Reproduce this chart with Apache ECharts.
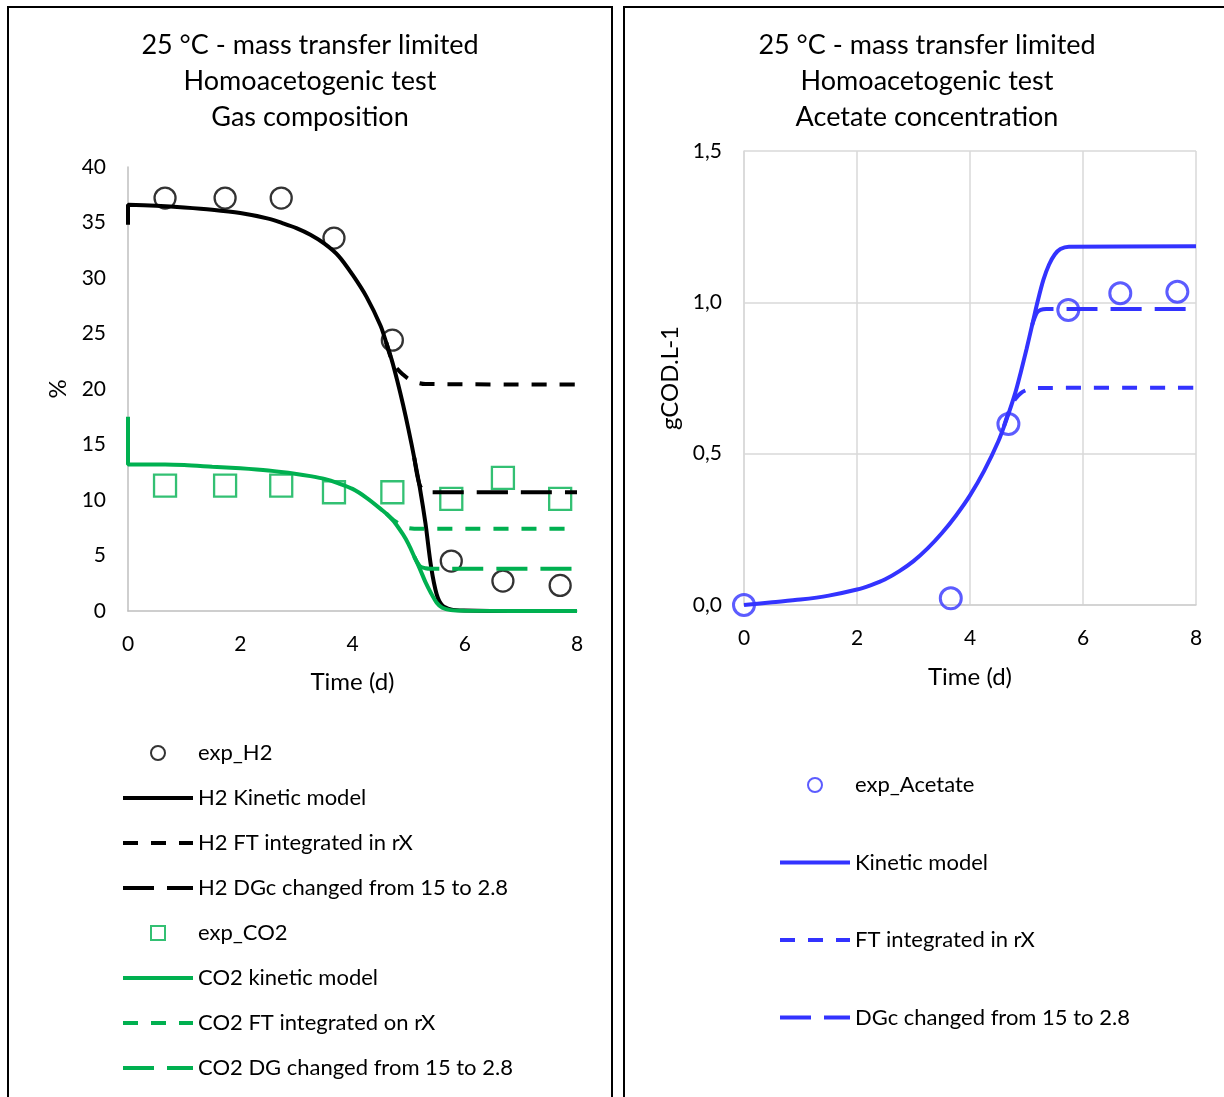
<!DOCTYPE html>
<html><head><meta charset="utf-8">
<script src="https://cdn.jsdelivr.net/npm/echarts/dist/echarts.min.js"></script>
<style>html,body{margin:0;padding:0;background:#fff}#c{width:1224px;height:1097px}</style>
</head><body><div id="c"></div>
<script>
// ---------- Left panel: gas composition ----------
const titleLeft = '25 °C - mass transfer limited\nHomoacetogenic test\nGas composition';
const titleRight = '25 °C - mass transfer limited\nHomoacetogenic test\nAcetate concentration';

const expTimeGas = [0.66, 1.73, 2.73, 3.67, 4.71, 5.76, 6.68, 7.70];
const expH2 = [37.2, 37.2, 37.2, 33.6, 24.4, 4.5, 2.7, 2.3];
const expCO2 = [11.3, 11.3, 11.3, 10.7, 10.7, 10.1, 12.0, 10.1];

const h2KinT = [0, 0, 0.5, 1.0, 1.5, 2.0, 2.5, 2.75, 3.0, 3.25, 3.5, 3.75, 4.0, 4.25, 4.5, 4.6, 4.7, 4.8, 4.9, 5.0, 5.1, 5.2, 5.3, 5.4, 5.5, 5.6, 5.75, 6.0, 7.0, 8.0];
const h2Kin  = [34.8, 36.6, 36.5, 36.35, 36.15, 35.85, 35.35, 34.95, 34.5, 33.9, 33.1, 32.0, 30.3, 28.3, 25.7, 24.2, 22.6, 20.7, 18.6, 16.3, 13.8, 11.1, 7.9, 4.0, 1.5, 0.5, 0.15, 0.05, 0, 0];
const h2FtT  = [4.6, 4.7, 4.8, 4.9, 5.0, 5.1, 5.3, 8.0];
const h2Ft   = [24.2, 22.6, 21.8, 21.3, 20.9, 20.65, 20.45, 20.4];
const h2DgT  = [5.1, 5.15, 5.2, 5.25, 5.35, 8.0];
const h2Dg   = [13.8, 12.3, 11.3, 10.95, 10.7, 10.7];

const co2KinT = [0, 0, 0.66, 1.0, 1.5, 2.0, 2.5, 3.0, 3.25, 3.5, 3.75, 4.0, 4.25, 4.5, 4.7, 4.9, 5.0, 5.1, 5.2, 5.3, 5.4, 5.5, 5.6, 5.75, 6.0, 8.0];
const co2Kin  = [17.5, 13.2, 13.2, 13.15, 13.0, 12.85, 12.65, 12.35, 12.15, 11.9, 11.5, 11.0, 10.2, 9.2, 8.3, 6.9, 6.0, 4.9, 3.8, 2.6, 1.6, 0.75, 0.3, 0.08, 0.02, 0];
const co2FtT  = [4.6, 4.7, 4.8, 4.9, 5.0, 5.2, 8.0];
const co2Ft   = [8.8, 8.3, 7.95, 7.65, 7.47, 7.4, 7.4];
const co2DgT  = [5.1, 5.2, 5.3, 5.4, 8.0];
const co2Dg   = [4.9, 4.05, 3.85, 3.8, 3.8];

// ---------- Right panel: acetate ----------
const expTimeAc = [0, 3.66, 4.68, 5.74, 6.66, 7.67];
const expAc = [0.0, 0.022, 0.598, 0.975, 1.03, 1.035];
const acKinT = [0, 0.5, 1.0, 1.5, 2.0, 2.25, 2.5, 2.75, 3.0, 3.25, 3.5, 3.75, 4.0, 4.25, 4.5, 4.65, 4.8, 4.9, 5.0, 5.1, 5.2, 5.3, 5.4, 5.5, 5.6, 5.75, 8.0];
const acKin  = [0, 0.009, 0.018, 0.031, 0.051, 0.066, 0.085, 0.112, 0.145, 0.187, 0.237, 0.295, 0.362, 0.443, 0.54, 0.615, 0.70, 0.77, 0.845, 0.925, 1.005, 1.075, 1.125, 1.158, 1.176, 1.184, 1.185];
const acFtT  = [4.6, 4.7, 4.8, 4.9, 5.0, 5.2, 8.0];
const acFt   = [0.59, 0.645, 0.68, 0.70, 0.71, 0.717, 0.718];
const acDgT  = [5.1, 5.18, 5.25, 5.35, 8.0];
const acDg   = [0.925, 0.965, 0.975, 0.978, 0.978];

const yTickLabelsRight = ['0,0', '0,5', '1,0', '1,5'];

const namesLeft = ['exp_H2', 'H2 Kinetic model', 'H2 FT integrated in rX', 'H2 DGc changed from 15 to 2.8',
  'exp_CO2', 'CO2 kinetic model', 'CO2 FT integrated on rX', 'CO2 DG changed from 15 to 2.8'];
const namesRight = ['exp_Acetate', 'Kinetic model', 'FT integrated in rX', 'DGc changed from 15 to 2.8'];

const BLACK = '#000000', GREEN = '#00b050', BLUE = '#3333ff';
const FONT = 'Lato';
const SHORT = [15, 13], LONG = [31, 13];
const SQUARE_ICON = 'path://M0,0H10V10H0Z';

function pairs(t, v) { return t.map((x, i) => [x, v[i]]); }
function lineSeries(name, t, v, color, dash, idx) {
  return {
    type: 'line', name, xAxisIndex: idx, yAxisIndex: idx, data: pairs(t, v),
    symbol: 'none', showSymbol: false, smooth: 0.3,
    lineStyle: { color, width: 4, type: dash },
    itemStyle: { color, opacity: 0 },
    silent: true, animation: false, z: 3
  };
}
function scatterSeries(name, t, v, color, symbol, size, bw, idx) {
  return {
    type: 'scatter', name, xAxisIndex: idx, yAxisIndex: idx, data: pairs(t, v),
    symbol, symbolSize: size,
    itemStyle: { color: 'rgba(255,255,255,0)', borderColor: color, borderWidth: bw },
    silent: true, animation: false, z: 2
  };
}

const axisText = { color: '#000', fontFamily: FONT, fontSize: 21 };
const nameText = { color: '#000', fontFamily: FONT, fontSize: 24 };
const legendText = { fontFamily: FONT, fontSize: 22, color: '#000', lineHeight: 24 };

const option = {
  backgroundColor: '#fff',
  animation: false,
  title: [
    { text: titleLeft, left: 310, top: 27, textAlign: 'center', padding: 0,
      textStyle: { fontFamily: FONT, fontSize: 27, fontWeight: 'normal', color: '#000', lineHeight: 36 } },
    { text: titleRight, left: 927, top: 27, textAlign: 'center', padding: 0,
      textStyle: { fontFamily: FONT, fontSize: 27, fontWeight: 'normal', color: '#000', lineHeight: 36 } }
  ],
  graphic: [
    { type: 'rect', shape: { x: 8, y: 7, width: 604, height: 1200 }, style: { fill: 'none', stroke: '#000', lineWidth: 2 }, z: 100 },
    { type: 'rect', shape: { x: 624, y: 7, width: 700, height: 1200 }, style: { fill: 'none', stroke: '#000', lineWidth: 2 }, z: 100 }
  ],
  grid: [
    { left: 128, top: 167, width: 449, height: 444, outerBoundsMode: 'none', containLabel: false },
    { left: 744, top: 151, width: 452, height: 454, outerBoundsMode: 'none', containLabel: false }
  ],
  xAxis: [
    { type: 'value', gridIndex: 0, min: 0, max: 8, interval: 2,
      name: 'Time (d)', nameLocation: 'middle', nameGap: 59, nameTextStyle: nameText,
      axisLine: { show: true, onZero: false, lineStyle: { color: '#bfbfbf', width: 1.5 } },
      axisTick: { show: false }, splitLine: { show: false },
      axisLabel: Object.assign({ margin: 23 }, axisText) },
    { type: 'value', gridIndex: 1, min: 0, max: 8, interval: 2,
      name: 'Time (d)', nameLocation: 'middle', nameGap: 60, nameTextStyle: nameText,
      axisLine: { show: true, onZero: false, lineStyle: { color: '#d0d0d0', width: 1.5 } },
      axisTick: { show: false }, splitLine: { show: true, lineStyle: { color: '#d9d9d9', width: 1.5 } },
      axisLabel: Object.assign({ margin: 23 }, axisText) }
  ],
  yAxis: [
    { type: 'value', gridIndex: 0, min: 0, max: 40, interval: 5,
      name: '%', nameLocation: 'middle', nameGap: 58, nameTextStyle: nameText,
      axisLine: { show: true, lineStyle: { color: '#bfbfbf', width: 1.5 } },
      axisTick: { show: false }, splitLine: { show: false },
      axisLabel: Object.assign({ margin: 22 }, axisText) },
    { type: 'value', gridIndex: 1, min: 0, max: 1.5, interval: 0.5,
      name: 'gCOD.L-1', nameLocation: 'middle', nameGap: 62, nameTextStyle: nameText,
      axisLine: { show: true, lineStyle: { color: '#d9d9d9', width: 1.5 } },
      axisTick: { show: false }, splitLine: { show: true, lineStyle: { color: '#d9d9d9', width: 1.5 } },
      axisLabel: Object.assign({ margin: 22, formatter: (v) => yTickLabelsRight[Math.round(v / 0.5)] }, axisText) }
  ],
  legend: [
    { data: namesLeft.map((n, i) => i === 4 ? { name: n, icon: SQUARE_ICON } : n),
      orient: 'vertical', left: 121, top: 741, padding: 0,
      itemWidth: 70, itemHeight: 14, itemGap: 21, selectedMode: false, textStyle: legendText,
      lineStyle: { width: 4 } },
    { data: namesRight, orient: 'vertical', left: 778, top: 773, padding: 0,
      itemWidth: 70, itemHeight: 14, itemGap: 53.5, selectedMode: false, textStyle: legendText,
      lineStyle: { width: 4 } }
  ],
  series: [
    scatterSeries(namesLeft[0], expTimeGas, expH2, BLACK, 'circle', 21, 2.3, 0),
    lineSeries(namesLeft[1], h2KinT, h2Kin, BLACK, 'solid', 0),
    lineSeries(namesLeft[2], h2FtT, h2Ft, BLACK, SHORT, 0),
    lineSeries(namesLeft[3], h2DgT, h2Dg, BLACK, LONG, 0),
    scatterSeries(namesLeft[4], expTimeGas, expCO2, GREEN, 'rect', 22, 2.3, 0),
    lineSeries(namesLeft[5], co2KinT, co2Kin, GREEN, 'solid', 0),
    lineSeries(namesLeft[6], co2FtT, co2Ft, GREEN, SHORT, 0),
    lineSeries(namesLeft[7], co2DgT, co2Dg, GREEN, LONG, 0),
    scatterSeries(namesRight[0], expTimeAc, expAc, BLUE, 'circle', 21, 3, 1),
    lineSeries(namesRight[1], acKinT, acKin, BLUE, 'solid', 1),
    lineSeries(namesRight[2], acFtT, acFt, BLUE, SHORT, 1),
    lineSeries(namesRight[3], acDgT, acDg, BLUE, LONG, 1)
  ]
};

const chart = echarts.init(document.getElementById('c'), null, { renderer: 'canvas', width: 1224, height: 1097 });
chart.setOption(option);
</script>
</body></html>
